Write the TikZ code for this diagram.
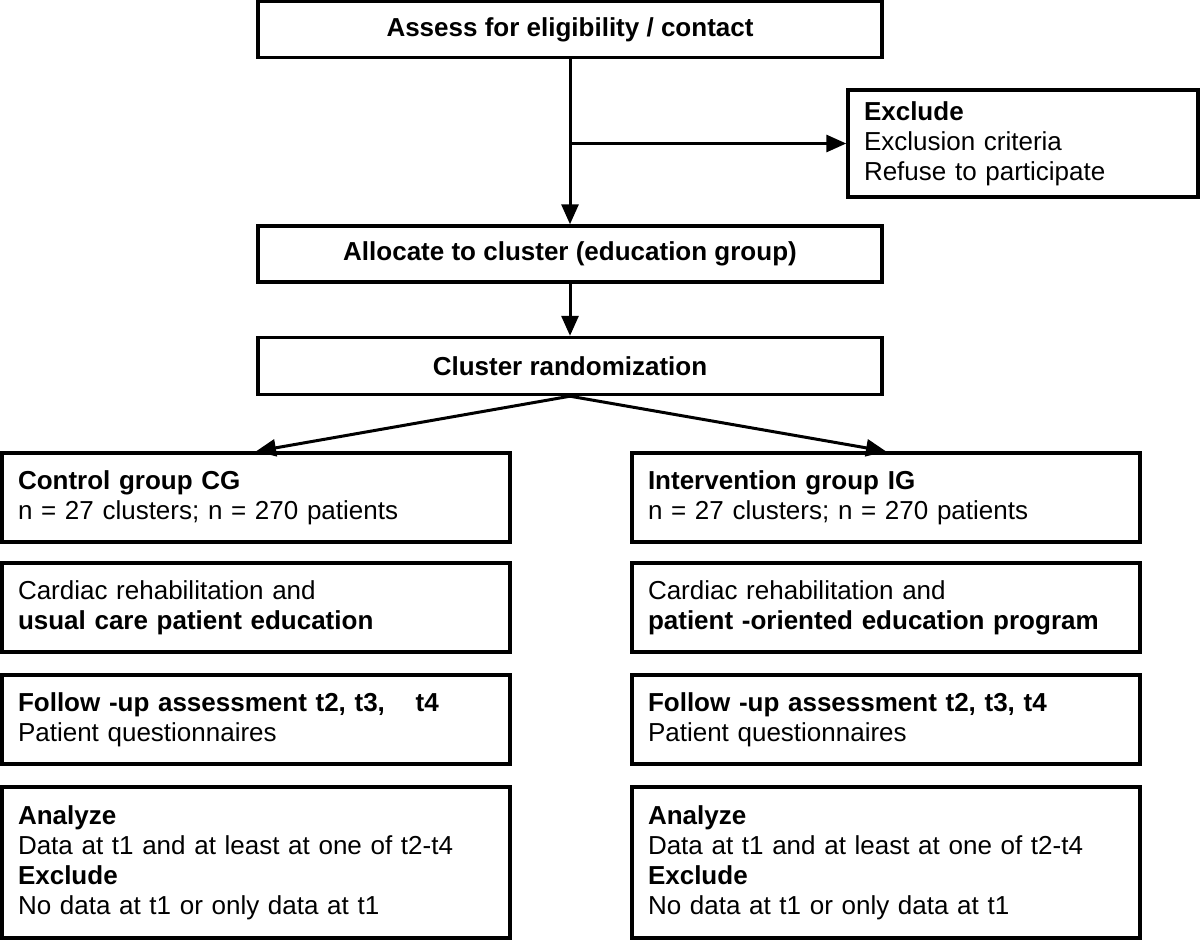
\documentclass[tikz,border=0pt]{standalone}
\usepackage{fontspec}
\setmainfont{Liberation Sans}
\usetikzlibrary{arrows.meta}

\begin{document}
\begin{tikzpicture}[x=1pt,y=-1pt,
    box/.style={draw, line width=3.4pt, inner xsep=16pt, inner ysep=0pt,
      font=\fontsize{26}{30}\selectfont},
    topbox/.style={box, minimum width=624pt, minimum height=56pt,
      font=\fontsize{26}{30}\selectfont\bfseries},
    grpbox/.style={box, text width=476pt, align=left, minimum height=89pt},
    arr/.style={line width=3pt, -{Triangle[length=20pt,width=17pt]}}]
  \useasboundingbox (0,0) rectangle (1200,940);
  % Mittkolumn
  \node[topbox] (assess) at (570,29.5) {Assess for eligibility / contact};
  \node[box, text width=318pt, align=left, minimum height=107pt] (exclude) at (1023,143.5)
    {\textbf{Exclude}\\Exclusion criteria\\Refuse to participate};
  \node[topbox] (allocate) at (570,254) {Allocate to cluster (education group)};
  \node[topbox, minimum height=57pt] (cluster) at (570,366) {Cluster randomization};
  % Kontrollgrupp
  \node[grpbox] (cg) at (256,497.5)
    {\textbf{Control group CG}\\n = 27 clusters; n = 270 patients};
  \node[grpbox] (cgcare) at (256,607.5)
    {Cardiac rehabilitation and\\\textbf{usual care patient education}};
  \node[grpbox] (cgfollow) at (256,719.5)
    {\textbf{Follow -up assessment t2, t3,\hspace{22pt} t4}\\Patient questionnaires};
  \node[grpbox, minimum height=151pt] (cganalyze) at (256,862.5)
    {\textbf{Analyze}\\Data at t1 and at least at one of t2-t4\\\textbf{Exclude}\\No data at t1 or only data at t1};
  % Interventionsgrupp
  \node[grpbox] (ig) at (886,497.5)
    {\textbf{Intervention group IG}\\n = 27 clusters; n = 270 patients};
  \node[grpbox] (igcare) at (886,607.5)
    {Cardiac rehabilitation and\\\textbf{patient -oriented education program}};
  \node[grpbox] (igfollow) at (886,719.5)
    {\textbf{Follow -up assessment t2, t3, t4}\\Patient questionnaires};
  \node[grpbox, minimum height=151pt] (iganalyze) at (886,862.5)
    {\textbf{Analyze}\\Data at t1 and at least at one of t2-t4\\\textbf{Exclude}\\No data at t1 or only data at t1};
  % Pilar
  \coordinate (branch) at (assess.south |- exclude.west);
  \draw[arr] (assess) -- (allocate);
  \draw[arr] (branch) -- (exclude);
  \draw[arr] (allocate) -- (cluster);
  \draw[arr] (cluster.south) -- (cg.north);
  \draw[arr] (cluster.south) -- (ig.north);
\end{tikzpicture}
\end{document}
